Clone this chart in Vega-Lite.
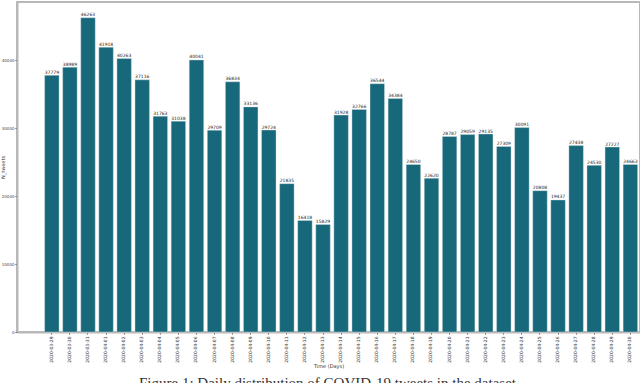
{
  "$schema": "https://vega.github.io/schema/vega-lite/v6.json",
  "width": 623,
  "height": 330,
  "autosize": "none",
  "padding": {"left": 17, "top": 2, "right": 0, "bottom": 51},
  "background": "white",
  "title": {
    "text": "Figure 1: Daily distribution of COVID-19 tweets in the dataset",
    "orient": "bottom",
    "anchor": "middle",
    "font": "Liberation Serif",
    "fontSize": 15,
    "fontWeight": "normal",
    "color": "#333333",
    "offset": 8,
    "dx": -1
  },
  "data": {
    "values": [
      {"date": "2020-03-29", "count": 37779},
      {"date": "2020-03-30", "count": 38989},
      {"date": "2020-03-31", "count": 46263},
      {"date": "2020-04-01", "count": 41918},
      {"date": "2020-04-02", "count": 40263},
      {"date": "2020-04-03", "count": 37116},
      {"date": "2020-04-04", "count": 31763},
      {"date": "2020-04-05", "count": 31038},
      {"date": "2020-04-06", "count": 40041},
      {"date": "2020-04-07", "count": 29709},
      {"date": "2020-04-08", "count": 36834},
      {"date": "2020-04-09", "count": 33136},
      {"date": "2020-04-10", "count": 29724},
      {"date": "2020-04-11", "count": 21835},
      {"date": "2020-04-12", "count": 16418},
      {"date": "2020-04-13", "count": 15829},
      {"date": "2020-04-14", "count": 31928},
      {"date": "2020-04-15", "count": 32766},
      {"date": "2020-04-16", "count": 36544},
      {"date": "2020-04-17", "count": 34384},
      {"date": "2020-04-18", "count": 24650},
      {"date": "2020-04-19", "count": 22620},
      {"date": "2020-04-20", "count": 28787},
      {"date": "2020-04-21", "count": 29059},
      {"date": "2020-04-22", "count": 29135},
      {"date": "2020-04-23", "count": 27309},
      {"date": "2020-04-24", "count": 30091},
      {"date": "2020-04-25", "count": 20808},
      {"date": "2020-04-26", "count": 19437},
      {"date": "2020-04-27", "count": 27438},
      {"date": "2020-04-28", "count": 24530},
      {"date": "2020-04-29", "count": 27227},
      {"date": "2020-04-30", "count": 24663}
    ]
  },
  "encoding": {
    "x": {
      "field": "date",
      "type": "nominal",
      "sort": null,
      "scale": {"paddingInner": 0.2, "paddingOuter": 0.83, "align": 0.92},
      "axis": {
        "title": "Time (Days)",
        "titleFont": "DejaVu Sans",
        "titleFontSize": 5,
        "titleFontWeight": "normal",
        "titleColor": "#333333",
        "titlePadding": 1,
        "labelAngle": -90,
        "labelFont": "DejaVu Sans",
        "labelFontSize": 4.5,
        "labelColor": "#333333",
        "labelPadding": 2,
        "ticks": true,
        "tickSize": 2,
        "tickColor": "#555555",
        "domainColor": "#b8b8b8",
        "domainWidth": 2
      }
    },
    "y": {
      "field": "count",
      "type": "quantitative",
      "scale": {"domain": [0, 48576], "nice": false},
      "axis": {
        "title": "N_tweets",
        "titleFont": "DejaVu Sans",
        "titleFontSize": 5,
        "titleFontWeight": "normal",
        "titleColor": "#333333",
        "titleX": -12,
        "titleBaseline": "bottom",
        "values": [0, 10000, 20000, 30000, 40000],
        "format": "d",
        "grid": false,
        "labelFont": "DejaVu Sans",
        "labelFontSize": 4,
        "labelColor": "#444444",
        "labelPadding": 1,
        "tickSize": 2,
        "tickColor": "#555555",
        "domainColor": "#b8b8b8",
        "domainWidth": 2
      }
    }
  },
  "layer": [
    {
      "mark": {"type": "bar", "color": "#17687a", "stroke": "#d8e4e6", "strokeWidth": 0.4}
    },
    {
      "mark": {"type": "text", "baseline": "bottom", "dy": -0.5, "font": "DejaVu Sans", "fontSize": 4.5, "color": "#222222"},
      "encoding": {"text": {"field": "count", "type": "quantitative", "format": "d"}}
    }
  ],
  "config": {
    "view": {"stroke": "#b8b8b8", "strokeWidth": 2}
  }
}
